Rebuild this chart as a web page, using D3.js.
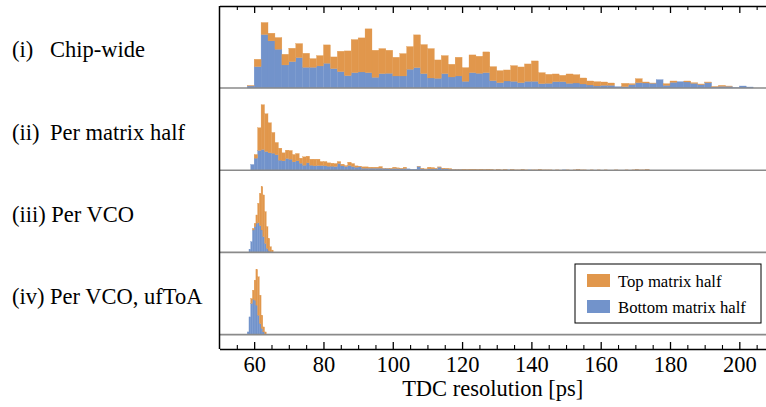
<!DOCTYPE html>
<html>
<head>
<meta charset="utf-8">
<script src="https://cdn.jsdelivr.net/npm/d3@7"></script>
<style>
  body { margin: 0; background: #fff; }
  svg text { font-family: "Liberation Serif", "Times New Roman", Tinos, "Nimbus Roman", "DejaVu Serif", serif !important; }
</style>
</head>
<body>
<script>
// panel labels
var panelTags = ["(i)", "(ii)", "(iii)", "(iv)"];
var panelNames = ["Chip-wide", "Per matrix half", "Per VCO", "Per VCO, ufToA"];
var seriesNames = ["Top matrix half", "Bottom matrix half"];
var xTicks = [60, 80, 100, 120, 140, 160, 180, 200];

// bin starts and widths [ps]
var binStart = [58, 59, 58.5, 58];
var binWidth = [2, 1, 0.5, 0.5];

// (i) chip-wide, 2 ps bins from 58
var chipBottom = [6, 64, 160, 141, 116, 69, 79, 91, 62, 62,
  66, 74, 58, 49, 37, 46, 48, 46, 32, 43,
  44, 36, 36, 56, 61, 43, 30, 29, 43, 33,
  36, 20, 46, 44, 46, 22, 16, 21, 20, 16,
  20, 20, 13, 14, 19, 19, 14, 15, 12, 9,
  6, 8, 8, 4, 4, 10, 16, 15, 14, 25,
  8, 17, 19, 18, 14, 10, 16, 3, 5, 5,
  1, 6, 3];
var chipTop = [1, 22, 36, 23, 35, 32, 40, 42, 42, 26,
  31, 55, 35, 61, 74, 99, 102, 131, 81, 75,
  69, 56, 67, 68, 98, 87, 88, 55, 54, 38,
  56, 41, 53, 51, 62, 42, 36, 33, 47, 47,
  52, 61, 33, 27, 23, 19, 28, 25, 18, 12,
  13, 10, 7, 0, 10, 3, 12, 3, 1, 0,
  5, 4, 0, 3, 2, 2, 2, 1, 3, 1,
  0, 0, 0];

// (ii) per matrix half, 1 ps bins from 59
var halfBottom = [17, 36, 59, 62, 56, 52, 51, 46, 30, 28,
  35, 33, 25, 28, 21, 15, 22, 15, 13, 14,
  14, 13, 12, 12, 11, 20, 13, 11, 14, 11,
  9, 10, 6, 6, 6, 6, 6, 6, 5, 5,
  4, 5, 5, 4, 5, 4, 3, 3, 11, 4,
  3, 4, 4, 4, 9, 4, 4, 3, 2, 2,
  2, 1, 1, 1, 1, 1, 1, 1, 1, 1,
  0, 1, 0, 1, 1, 1, 0, 0, 1, 0,
  1, 0, 0, 1, 0, 0, 0, 0, 0, 0,
  1, 0, 0, 0, 1, 0, 0, 0, 0, 0,
  0, 0, 0, 0, 0, 0, 0, 0, 0, 0,
  0, 1, 0, 0, 1];
var halfTop = [0, 11, 68, 134, 113, 90, 62, 37, 36, 24,
  25, 26, 22, 22, 15, 25, 20, 18, 20, 19,
  12, 13, 10, 9, 9, 6, 5, 3, 10, 9,
  4, 2, 4, 4, 3, 3, 3, 5, 1, 1,
  1, 4, 2, 1, 4, 0, 0, 0, 1, 1,
  1, 5, 4, 1, 1, 2, 1, 2, 1, 1,
  1, 2, 1, 2, 2, 1, 2, 1, 2, 1,
  1, 1, 1, 1, 0, 1, 1, 1, 1, 1,
  0, 1, 1, 1, 1, 1, 1, 0, 1, 0,
  0, 1, 0, 1, 1, 1, 1, 0, 1, 0,
  1, 0, 1, 0, 0, 1, 0, 0, 1, 0,
  1, 1, 1, 1, 1, 1, 1, 1, 0, 1,
  1, 0, 0, 1, 0, 0, 1, 0, 1, 0,
  0, 0, 1, 0, 0, 1];

// (iii) per VCO, 0.5 ps bins from 58.5
var vcoBottom = [9, 32, 67, 77, 87, 89, 80, 67, 47, 27, 12, 5, 0, 0];
var vcoTop = [0, 0, 5, 10, 25, 58, 97, 130, 125, 95, 65, 37, 17, 7];

// (iv) per VCO ufToA, 0.5 ps bins from 58
var uftoaBottom = [8, 53, 93, 106, 103, 88, 58, 33, 18, 8, 0];
var uftoaTop = [0, 0, 15, 27, 60, 107, 115, 85, 40, 15, 8];

var bottoms = [chipBottom, halfBottom, vcoBottom, uftoaBottom];
var tops = [chipTop, halfTop, vcoTop, uftoaTop];

var W = 766, H = 407;
var orange = "#E1974C", blue = "#7293CB";
var left = 219.5, topY = 6, axisY = 349;
var panelH = 82.2;
var fs = 22.5;
var serif = "'Liberation Serif', 'Times New Roman', Tinos, 'Nimbus Roman', 'DejaVu Serif', serif";

var svg = d3.select("body").append("svg").attr("width", W).attr("height", H)
  .style("font-family", serif);

var x = d3.scaleLinear().domain([50, 207.7]).range([left, W]);
var stack = d3.stack().keys(["bottom", "top"]);

for (var p = 0; p < 4; p++) {
  var base = 88 + p * panelH;
  var y = d3.scaleLinear().domain([0, 246]).range([base, base - panelH]);
  var rows = bottoms[p].map(function (b, i) {
    return { x0: binStart[p] + i * binWidth[p], bottom: b, top: tops[p][i] || 0 };
  });
  var w = binWidth[p];
  var layers = stack(rows);
  var g = svg.append("g");
  g.selectAll("g").data(layers).enter().append("g")
    .attr("fill", function (d) { return d.key == "bottom" ? blue : orange; })
    .selectAll("rect").data(function (d) { return d; }).enter().append("rect")
    .attr("x", function (d) { return x(d.data.x0); })
    .attr("width", function (d) { return x(d.data.x0 + w) - x(d.data.x0); })
    .attr("y", function (d) { return y(d[1]); })
    .attr("height", function (d) { return y(d[0]) - y(d[1]); })
    .attr("stroke", function (d) { return d3.select(this.parentNode).attr("fill"); })
    .attr("stroke-width", 0.3);

  // gray baseline
  svg.append("line").attr("x1", left).attr("x2", W).attr("y1", base).attr("y2", base)
    .attr("stroke", "#8a8a8a").attr("stroke-width", 1.6);

  // panel label
  var ly = base - panelH / 2 + 10.5;
  var tag = svg.append("text").attr("x", 12).attr("y", ly).attr("font-size", fs).text(panelTags[p]);
  var nx = Math.max(50, 12 + tag.node().getComputedTextLength() + 5.6);
  svg.append("text").attr("x", nx).attr("y", ly).attr("font-size", fs).text(panelNames[p]);
}

// axes
var minorTicks = d3.range(55, 210, 5).filter(function (v) { return v % 20 != 0; });
svg.append("g").attr("transform", "translate(0," + axisY + ")")
  .call(d3.axisBottom(x).tickValues(xTicks).tickSize(-7).tickSizeOuter(0).tickPadding(7))
  .call(function (g) {
    g.attr("font-family", serif);
    g.selectAll("text").attr("font-size", fs).attr("fill", "#000");
    g.select(".domain").attr("stroke-width", 1.5);
    g.selectAll(".tick line").attr("stroke-width", 1.3);
  });
svg.append("g").attr("transform", "translate(0," + axisY + ")")
  .call(d3.axisBottom(x).tickValues(minorTicks).tickSize(-4).tickFormat(""))
  .call(function (g) { g.select(".domain").remove(); g.selectAll(".tick line").attr("stroke-width", 1.1); });
svg.append("g").attr("transform", "translate(0," + topY + ")")
  .call(d3.axisTop(x).tickValues(xTicks).tickSize(-7).tickSizeOuter(0).tickFormat(""))
  .call(function (g) {
    g.select(".domain").attr("stroke-width", 1.5);
    g.selectAll(".tick line").attr("stroke-width", 1.3);
  });
svg.append("g").attr("transform", "translate(0," + topY + ")")
  .call(d3.axisTop(x).tickValues(minorTicks).tickSize(-4).tickFormat(""))
  .call(function (g) { g.select(".domain").remove(); g.selectAll(".tick line").attr("stroke-width", 1.1); });

svg.append("line").attr("x1", left).attr("x2", left).attr("y1", topY).attr("y2", axisY)
  .attr("stroke", "#000").attr("stroke-width", 1.5);

svg.append("text").attr("x", (left + W) / 2).attr("y", 396).attr("text-anchor", "middle")
  .attr("font-size", fs).text("TDC resolution [ps]");

// legend
var lg = svg.append("g").attr("transform", "translate(575,264)");
lg.append("rect").attr("width", 186).attr("height", 59).attr("fill", "#fff")
  .attr("stroke", "#000").attr("stroke-width", 1);
[orange, blue].forEach(function (c, i) {
  lg.append("rect").attr("x", 12).attr("y", 10 + i * 26).attr("width", 23).attr("height", 13).attr("fill", c);
  lg.append("text").attr("x", 43).attr("y", 22.5 + i * 26).attr("font-size", 16.7).text(seriesNames[i]);
});
</script>
</body>
</html>
